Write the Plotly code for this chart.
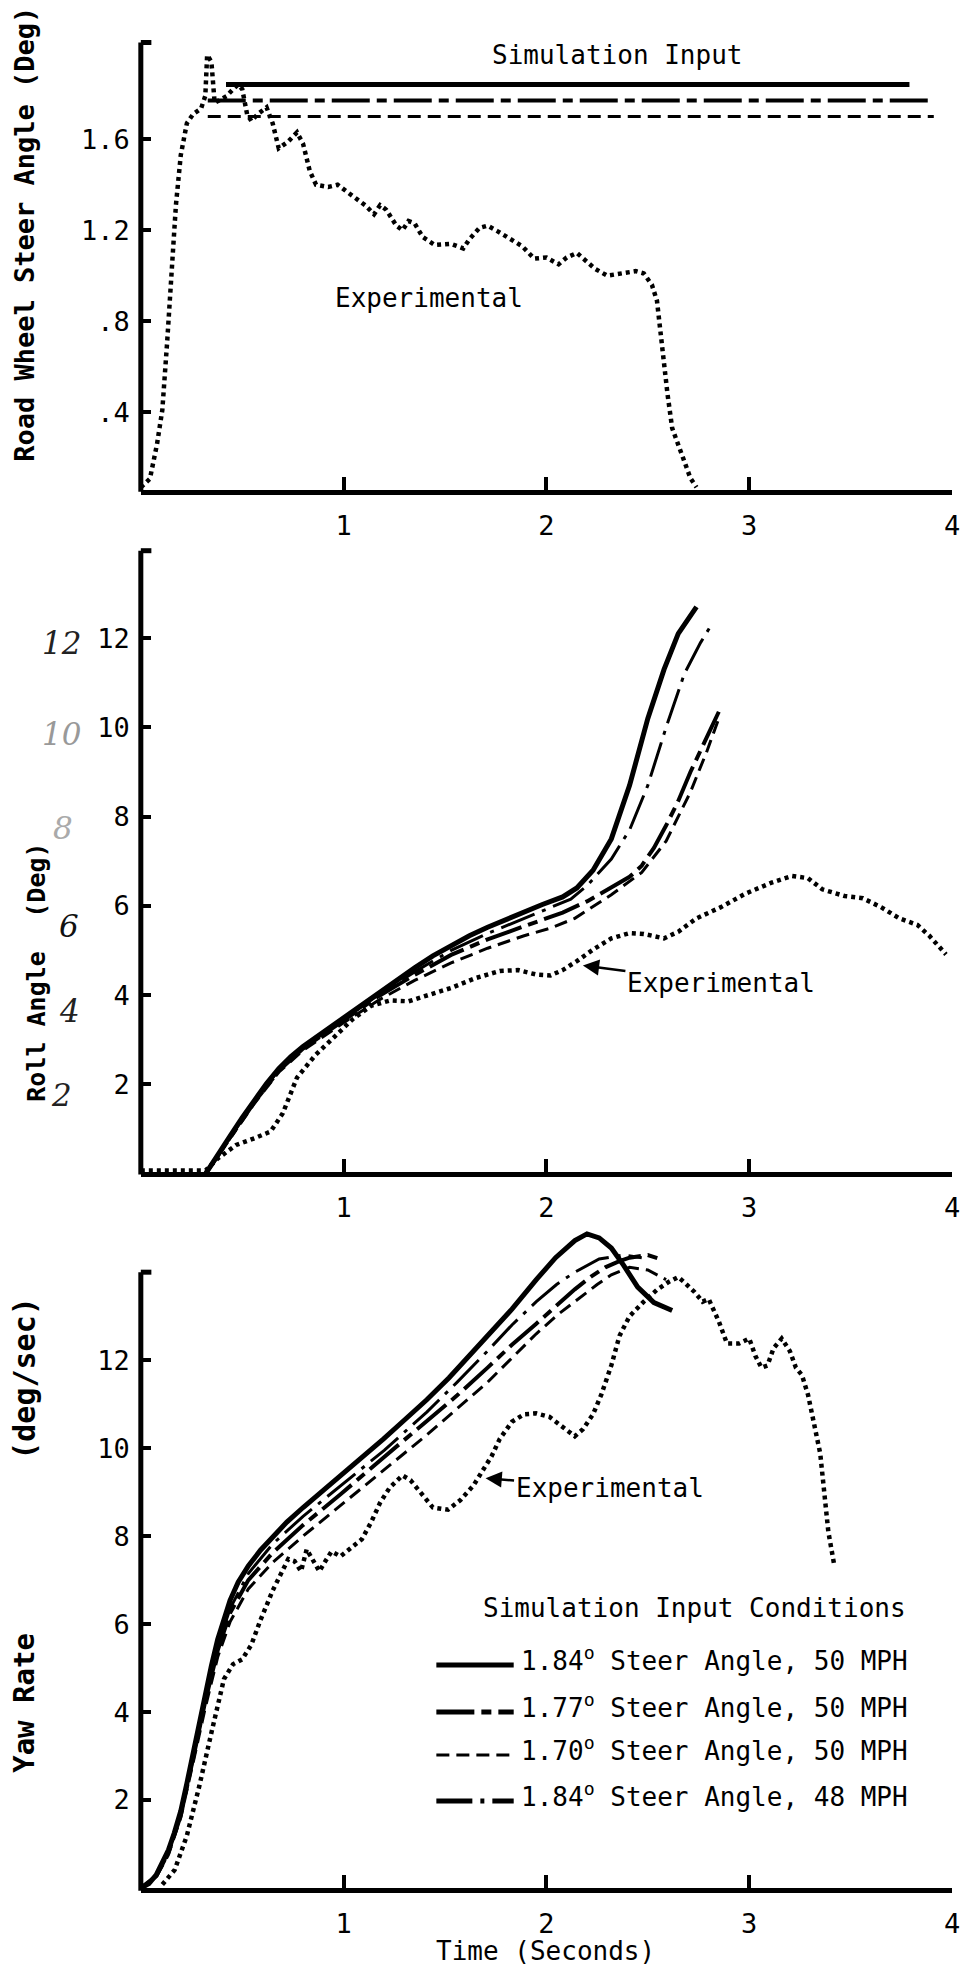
import plotly.graph_objects as go

W, H = 965, 1968

# ---------------- data ----------------
time_ticks = [1, 2, 3, 4]
time_tick_text = ["1", "2", "3", "4"]

# Panel 1: road wheel steer angle
p1_ticks = [0.4, 0.8, 1.2, 1.6]
p1_tick_text = [".4", ".8", "1.2", "1.6"]
p1_exp_t = [0.0, 0.045, 0.08, 0.106, 0.13, 0.15, 0.173, 0.197, 0.227, 0.258, 0.297, 0.318, 0.327,
            0.348, 0.364, 0.385, 0.424, 0.455, 0.48, 0.5, 0.524, 0.545, 0.576, 0.62, 0.65, 0.68,
            0.727, 0.77, 0.8, 0.833, 0.864, 0.924, 0.97, 1.015, 1.06, 1.106, 1.15, 1.18, 1.21,
            1.26, 1.29, 1.32, 1.35, 1.39, 1.45, 1.53, 1.59, 1.62, 1.67, 1.71, 1.76, 1.82, 1.88,
            1.94, 2.0, 2.06, 2.1, 2.15, 2.2, 2.24, 2.3, 2.38, 2.44, 2.48, 2.52, 2.545, 2.56,
            2.576, 2.597, 2.62, 2.67, 2.71, 2.74]
p1_exp_v = [0.07, 0.108, 0.26, 0.41, 0.71, 1.01, 1.31, 1.53, 1.67, 1.71, 1.735, 1.79, 1.97,
            1.94, 1.76, 1.77, 1.79, 1.82, 1.84, 1.82, 1.71, 1.68, 1.71, 1.74, 1.67, 1.56,
            1.59, 1.63, 1.58, 1.46, 1.40, 1.39, 1.40, 1.37, 1.34, 1.31, 1.27, 1.31, 1.29,
            1.22, 1.20, 1.24, 1.23, 1.17, 1.135, 1.14, 1.12, 1.16, 1.21, 1.22, 1.195, 1.16, 1.13,
            1.075, 1.08, 1.05, 1.08, 1.10, 1.06, 1.03, 1.0, 1.01, 1.02, 1.01, 0.96, 0.89, 0.77,
            0.63, 0.48, 0.33, 0.21, 0.11, 0.07]
p1_sim_level = [1.84, 1.77, 1.70]
p1_sim_start = [0.42, 0.33, 0.33]
p1_sim_end = [3.79, 3.91, 3.91]

# Panel 2: roll angle
p2_ticks = [2, 4, 6, 8, 10, 12]
p2_tick_text = ["2", "4", "6", "8", "10", "12"]
p2_hand_vals = [11.9, 9.85, 7.75, 5.55, 3.65, 1.75]
p2_hand_text = ["12", "10", "8", "6", "4", "2"]
p2_exp_t = [0.0, 0.2, 0.32, 0.38, 0.47, 0.56, 0.64, 0.70, 0.77, 0.86, 0.95, 1.045, 1.136, 1.23,
            1.32, 1.41, 1.53, 1.65, 1.77, 1.86, 1.95, 2.02, 2.08, 2.15, 2.23, 2.32, 2.41, 2.48,
            2.58, 2.65, 2.74, 2.86, 2.98, 3.11, 3.21, 3.29, 3.36, 3.47, 3.56, 3.65, 3.74, 3.83,
            3.89, 3.97]
p2_exp_v = [0.07, 0.07, 0.07, 0.34, 0.64, 0.79, 0.94, 1.35, 2.15, 2.65, 3.06, 3.46, 3.76, 3.88,
            3.86, 3.98, 4.16, 4.38, 4.54, 4.56, 4.46, 4.44, 4.56, 4.76, 5.02, 5.27, 5.39, 5.37,
            5.27, 5.42, 5.72, 5.97, 6.27, 6.52, 6.67, 6.62, 6.37, 6.22, 6.17, 5.97, 5.72, 5.57,
            5.32, 4.91]
p2_s1_t = [0.32, 0.38, 0.44, 0.50, 0.56, 0.62, 0.68, 0.74, 0.80, 0.90, 0.99, 1.08, 1.17, 1.26,
           1.35, 1.44, 1.53, 1.62, 1.71, 1.80, 1.89, 1.98, 2.08, 2.15, 2.23, 2.32, 2.41, 2.5,
           2.58, 2.65, 2.74]
p2_s1_v = [0.0, 0.4, 0.84, 1.25, 1.65, 2.02, 2.35, 2.62, 2.85, 3.17, 3.46, 3.77, 4.06, 4.34,
           4.61, 4.88, 5.12, 5.33, 5.52, 5.7, 5.87, 6.03, 6.2, 6.4, 6.8, 7.5, 8.7, 10.2,
           11.3, 12.1, 12.7]
p2_s4_t = [0.32, 0.44, 0.56, 0.68, 0.80, 0.99, 1.17, 1.35, 1.53, 1.71, 1.89, 2.02, 2.12, 2.2,
           2.32, 2.41, 2.5, 2.59, 2.68, 2.76, 2.82]
p2_s4_v = [0.0, 0.82, 1.62, 2.32, 2.82, 3.42, 4.0, 4.52, 5.0, 5.38, 5.72, 5.95, 6.15, 6.45,
           7.05, 7.7, 8.7, 10.0, 11.2, 11.9, 12.35]
p2_s2_t = [0.32, 0.44, 0.56, 0.68, 0.80, 0.99, 1.17, 1.35, 1.53, 1.71, 1.89, 2.08, 2.2, 2.32,
           2.41, 2.47, 2.53, 2.59, 2.65, 2.71, 2.77, 2.82, 2.85]
p2_s2_v = [0.0, 0.8, 1.6, 2.3, 2.8, 3.4, 3.97, 4.45, 4.9, 5.25, 5.55, 5.85, 6.1, 6.4,
           6.65, 6.9, 7.3, 7.8, 8.35, 9.0, 9.6, 10.1, 10.35]
p2_s3_t = [0.32, 0.44, 0.56, 0.68, 0.80, 0.99, 1.17, 1.35, 1.53, 1.71, 1.89, 2.02, 2.14, 2.32,
           2.47, 2.59, 2.71, 2.79, 2.85]
p2_s3_v = [0.0, 0.78, 1.57, 2.27, 2.76, 3.35, 3.88, 4.33, 4.72, 5.05, 5.33, 5.5, 5.72, 6.25,
           6.75, 7.45, 8.55, 9.45, 10.2]

# Panel 3: yaw rate
p3_ticks = [2, 4, 6, 8, 10, 12]
p3_tick_text = ["2", "4", "6", "8", "10", "12"]
p3_exp_t = [0.106, 0.167, 0.227, 0.288, 0.348, 0.41, 0.455, 0.5, 0.545, 0.59, 0.65, 0.70, 0.727,
            0.758, 0.79, 0.818, 0.85, 0.88, 0.91, 0.94, 0.985, 1.03, 1.09, 1.136, 1.18, 1.227,
            1.29, 1.33, 1.38, 1.44, 1.515, 1.576, 1.64, 1.68, 1.73, 1.77, 1.83, 1.89, 1.95, 2.015,
            2.076, 2.14, 2.18, 2.23, 2.27, 2.32, 2.36, 2.41, 2.48, 2.545, 2.6, 2.65, 2.68, 2.73,
            2.77, 2.8, 2.85, 2.89, 2.95, 3.0, 3.03, 3.06, 3.09, 3.12, 3.16, 3.2, 3.23, 3.26, 3.29,
            3.32, 3.35, 3.37, 3.39, 3.42]
p3_exp_v = [0.08, 0.41, 1.19, 2.31, 3.53, 4.75, 5.09, 5.2, 5.53, 6.09, 6.76, 7.2, 7.48,
            7.43, 7.2, 7.7, 7.43, 7.2, 7.43, 7.65, 7.54, 7.7, 7.93, 8.32, 8.76, 9.1,
            9.38, 9.27, 8.99, 8.65, 8.6, 8.82, 9.15, 9.43, 9.82, 10.21, 10.6, 10.77, 10.79, 10.71,
            10.49, 10.27, 10.43, 10.77, 11.21, 11.88, 12.55, 13.0, 13.33, 13.6, 13.77, 13.89, 13.77, 13.55,
            13.33, 13.39, 12.88, 12.38, 12.38, 12.49, 12.1, 11.83, 11.88, 12.27, 12.49, 12.21, 11.83, 11.66, 11.21,
            10.55, 9.88, 8.99, 8.1, 7.32]
p3_s1_t = [0.0, 0.04, 0.076, 0.105, 0.136, 0.165, 0.197, 0.228, 0.258, 0.288, 0.318, 0.348, 0.379,
           0.41, 0.44, 0.48, 0.53, 0.59, 0.65, 0.72, 0.80, 0.89, 0.985, 1.09, 1.197, 1.30, 1.41,
           1.52, 1.62, 1.72, 1.83, 1.95, 2.045, 2.14, 2.2, 2.26, 2.32, 2.38, 2.45, 2.53, 2.62]
p3_s1_v = [0.0, 0.1, 0.3, 0.55, 0.86, 1.25, 1.75, 2.4, 3.08, 3.75, 4.42, 5.05, 5.65,
           6.15, 6.54, 6.95, 7.32, 7.68, 7.98, 8.32, 8.65, 9.0, 9.38, 9.8, 10.21, 10.64, 11.1,
           11.6, 12.1, 12.6, 13.16, 13.83, 14.33, 14.72, 14.87, 14.78, 14.55, 14.16, 13.66, 13.31, 13.13]
p3_s4_t = [0.0, 0.076, 0.136, 0.197, 0.258, 0.318, 0.379, 0.44, 0.53, 0.65, 0.80, 0.985, 1.2,
           1.41, 1.56, 1.71, 1.83, 1.95, 2.05, 2.14, 2.26, 2.38, 2.47]
p3_s4_v = [0.0, 0.28, 0.82, 1.68, 3.0, 4.3, 5.5, 6.35, 7.15, 7.82, 8.45, 9.15, 9.95,
           10.82, 11.5, 12.21, 12.8, 13.33, 13.72, 14.0, 14.3, 14.39, 14.33]
p3_s2_t = [0.0, 0.076, 0.136, 0.197, 0.258, 0.318, 0.379, 0.44, 0.53, 0.65, 0.80, 0.985, 1.2,
           1.41, 1.56, 1.71, 1.83, 1.95, 2.05, 2.14, 2.22, 2.29, 2.36, 2.41, 2.5, 2.56]
p3_s2_v = [0.0, 0.27, 0.8, 1.65, 2.95, 4.25, 5.4, 6.25, 7.0, 7.62, 8.25, 8.95, 9.8,
           10.6, 11.2, 11.83, 12.35, 12.83, 13.25, 13.61, 13.9, 14.11, 14.25, 14.33, 14.39, 14.3]
p3_s3_t = [0.0, 0.076, 0.136, 0.197, 0.258, 0.318, 0.379, 0.44, 0.53, 0.65, 0.80, 0.985, 1.2,
           1.41, 1.56, 1.71, 1.83, 1.95, 2.06, 2.17, 2.25, 2.32, 2.41, 2.5, 2.59]
p3_s3_v = [0.0, 0.25, 0.75, 1.6, 2.85, 4.1, 5.25, 6.05, 6.8, 7.4, 8.0, 8.7, 9.5,
           10.3, 10.9, 11.5, 12.05, 12.6, 13.05, 13.44, 13.72, 13.94, 14.11, 14.05, 13.83]

legend_title = "Simulation Input Conditions"
legend_labels = ["1.84<sup>o</sup> Steer Angle, 50 MPH",
                 "1.77<sup>o</sup> Steer Angle, 50 MPH",
                 "1.70<sup>o</sup> Steer Angle, 50 MPH",
                 "1.84<sup>o</sup> Steer Angle, 48 MPH"]

# ---------------- styles ----------------
FONT = "DejaVu Sans Mono"
STY = {
    "s1": dict(color="black", width=5, dash="solid"),
    "s2": dict(color="black", width=4, dash="38px,7px,10px,7px"),
    "s3": dict(color="black", width=3, dash="13px,7px"),
    "s4": dict(color="black", width=3, dash="36px,8px,4px,8px"),
    "exp": dict(color="black", width=4.5, dash="4px,4px"),
}

# layout geometry (pixels)
X_LEFT, X_RIGHT = 142, 960
panels = {
    # name: (top_px, bottom_px, range, axis_top_value)
    1: (30, 490, [0.058, 2.080], 2.025),
    2: (540, 1172, [0.034, 14.2], 13.96),
    3: (1215, 1888, [0.0, 15.3], 14.0),
}

fig = go.Figure()


def add(xs, ys, n, style):
    sfx = "" if n == 1 else str(n)
    fig.add_trace(go.Scatter(x=xs, y=ys, mode="lines", line=STY[style],
                             xaxis="x" + sfx, yaxis="y" + sfx, showlegend=False,
                             hoverinfo="skip"))


# panel 1
add(p1_exp_t, p1_exp_v, 1, "exp")
for lvl, t0, t1, st in zip(p1_sim_level, p1_sim_start, p1_sim_end, ["s1", "s2", "s3"]):
    add([t0, t1], [lvl, lvl], 1, st)
# panel 2
add(p2_exp_t, p2_exp_v, 2, "exp")
add(p2_s3_t, p2_s3_v, 2, "s3")
add(p2_s2_t, p2_s2_v, 2, "s2")
add(p2_s4_t, p2_s4_v, 2, "s4")
add(p2_s1_t, p2_s1_v, 2, "s1")
# panel 3
add(p3_exp_t, p3_exp_v, 3, "exp")
add(p3_s3_t, p3_s3_v, 3, "s3")
add(p3_s2_t, p3_s2_v, 3, "s2")
add(p3_s4_t, p3_s4_v, 3, "s4")
add(p3_s1_t, p3_s1_v, 3, "s1")

layout = dict(width=W, height=H, margin=dict(l=0, r=0, t=0, b=0),
              paper_bgcolor="white", plot_bgcolor="white", showlegend=False,
              font=dict(family=FONT, size=26, color="black"))

yticks = {1: (p1_ticks, p1_tick_text), 2: (p2_ticks, p2_tick_text), 3: (p3_ticks, p3_tick_text)}
shapes = []
for n, (top, bot, rng, axtop) in panels.items():
    sfx = "" if n == 1 else str(n)
    layout["xaxis" + sfx] = dict(domain=[X_LEFT / W, X_RIGHT / W], range=[0, 4],
                                 anchor="y" + sfx, showgrid=False, zeroline=False,
                                 showline=True, linewidth=5, linecolor="black",
                                 ticks="inside", ticklen=13, tickwidth=4, tickcolor="black",
                                 tickvals=time_ticks, ticktext=time_tick_text,
                                 ticklabelstandoff=8, ticklabeloverflow="allow",
                                 tickfont=dict(family=FONT, size=27, color="black"))
    tv, tt = yticks[n]
    layout["yaxis" + sfx] = dict(domain=[1 - bot / H, 1 - top / H], range=rng,
                                 anchor="x" + sfx, showgrid=False, zeroline=False,
                                 showline=False, ticks="inside", ticklen=10, tickwidth=4,
                                 tickcolor="black", tickvals=tv, ticktext=tt,
                                 ticklabelstandoff=10,
                                 tickfont=dict(family=FONT, size=27, color="black"))
    frac = (axtop - rng[0]) / (rng[1] - rng[0])
    shapes.append(dict(type="line", xref="x" + sfx + " domain", yref="y" + sfx + " domain",
                       x0=0, x1=0, y0=-0.004, y1=frac, line=dict(color="black", width=5)))
    shapes.append(dict(type="line", xref="x" + sfx + " domain", yref="y" + sfx + " domain",
                       x0=0, x1=0.013, y0=frac, y1=frac, line=dict(color="black", width=5)))

annotations = []


def px_x(px):
    return px / W


def px_y(py):
    return 1 - py / H


def note(text, x, y, xref, yref, size=26, **kw):
    d = dict(text=text, x=x, y=y, xref=xref, yref=yref, showarrow=False,
             xanchor="center", yanchor="middle",
             font=dict(family=FONT, size=size, color="black"))
    d.update(kw)
    annotations.append(d)


# axis titles
for txt, cx, cy, sz in [("Road Wheel Steer Angle (Deg)", 24, 234, 27),
                        ("Roll Angle", 36, 1026, 25), ("(Deg)", 36, 880, 25),
                        ("Yaw Rate", 24, 1703, 29), ("(deg/sec)", 24, 1378, 30)]:
    annotations.append(dict(text=txt, x=px_x(cx), y=px_y(cy), xref="paper", yref="paper",
                            xanchor="center", yanchor="middle",
                            showarrow=False, textangle=-90,
                            font=dict(family=FONT, size=sz, color="black", weight="bold")))

# handwritten annotations beside panel 2 ticks
hand_x = [62, 62, 64, 70, 70, 62]
hand_colors = ["#222", "#999", "#aaa", "#111", "#222", "#222"]
for v, t, c, hx in zip(p2_hand_vals, p2_hand_text, hand_colors, hand_x):
    annotations.append(dict(text=t, x=px_x(hx), y=v, xref="paper", yref="y2", showarrow=False,
                            xanchor="center", yanchor="middle",
                            font=dict(family="DejaVu Serif", size=31, color=c, style="italic")))

# panel 1 labels
note("Simulation Input", 2.35, 1.97, "x", "y")
note("Experimental", 1.42, 0.90, "x", "y")

# experimental arrows
for x, y, xr, yr, ax, ay in [(2.17, 4.67, "x2", "y2", 140, 18), (1.69, 9.32, "x3", "y3", 126, 10)]:
    annotations.append(dict(text="Experimental", x=x, y=y, xref=xr, yref=yr,
                            showarrow=True, ax=ax, ay=ay, arrowhead=2, arrowsize=1.3,
                            arrowwidth=2.5, arrowcolor="black", standoff=2,
                            font=dict(family=FONT, size=26, color="black")))

# x axis title
note("Time (Seconds)", px_x(550), px_y(1951), "paper", "paper")

# legend block (panel 3)
note(legend_title, px_x(700), px_y(1608), "paper", "paper")
leg_y = [1659, 1706, 1749, 1795]
for lab, yy, st in zip(legend_labels, leg_y, ["s1", "s2", "s3", "s4"]):
    annotations.append(dict(text=lab, x=px_x(523), y=px_y(yy), xref="paper", yref="paper",
                            xanchor="left", yanchor="middle", showarrow=False,
                            font=dict(family=FONT, size=26, color="black")))
    ln = dict(STY[st])
    ln["width"] = 3 if st == "s3" else 5
    shapes.append(dict(type="line", xref="paper", yref="paper", x0=px_x(440), x1=px_x(518),
                       y0=px_y(yy + 6), y1=px_y(yy + 6), line=ln))

layout["annotations"] = annotations
layout["shapes"] = shapes
fig.update_layout(**layout)
fig.write_html("out.html")
